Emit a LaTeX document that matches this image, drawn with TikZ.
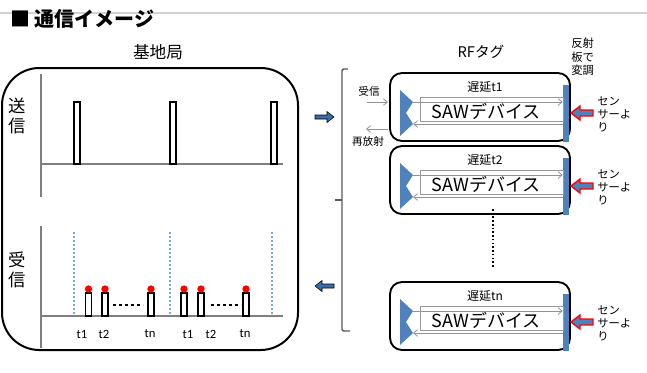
\documentclass[tikz,border=0pt]{standalone}
\usepackage{fontspec}
\usetikzlibrary{arrows.meta}
\setmainfont{Noto Sans CJK JP}
\newfontfamily\lat{Carlito}
\definecolor{sawblue}{HTML}{4F81BD}
\definecolor{arrblue}{HTML}{3D6DA8}
\definecolor{dotblue}{HTML}{7FA7D8}
\definecolor{axisgray}{HTML}{7F7F7F}
\definecolor{brgray}{HTML}{595959}
\newcommand\rftag[3]{%
\begin{scope}[shift={(0,#2)}]
 \node[tagbox] (#1box) at (480,34) {};
 \fill[sawblue] (400,17) -- (413,29) -- (406,40) -- (413,51) -- (400,63) -- cycle;
 \coordinate (#1tipa) at (413,29);
 \coordinate (#1tipb) at (413,51);
 \node[reflbar] (#1bar) at (566,40.5) {};
 \node[sawrect] (#1saw) at (491.5,36) {};
 \node[sawtext] (#1sawt) at (486,38) {SAWデバイス};
 \draw[garrow] (#1tipa) -- (#1tipa -| #1bar.west);
 \draw[garrow] (#1tipb -| #1bar.west) -- (#1tipb);
 \node[dlytext] (#1dly) at (485,14) {遅延{#3}};
 \draw[sensarrow] (593,37) -- (580,37) -- (580,33) -- (571,40) -- (580,47) -- (580,43) -- (593,43) -- cycle;
 \node[senstext] (#1sens) at (597,23) {セン\\サーよ\\り};
\end{scope}}
\begin{document}
\begin{tikzpicture}[x=0.75pt,y=-0.75pt,
  pulse/.style={draw=black,line width=1.1pt,fill=white},
  axis/.style={draw=axisgray,line width=0.8pt},
  tagbox/.style={draw=black,line width=1.4pt,rounded corners=9pt,minimum width=135pt,minimum height=51pt,inner sep=0pt},
  reflbar/.style={fill=sawblue,minimum width=4.5pt,minimum height=42.75pt,inner sep=0pt},
  sawrect/.style={draw=gray!80,line width=0.6pt,minimum width=107.25pt,minimum height=18pt,inner sep=0pt},
  sawtext/.style={font=\fontsize{13.5}{15}\selectfont,inner sep=0pt},
  garrow/.style={draw=gray!85,line width=0.6pt,-{Straight Barb[length=3pt,width=5pt]}},
  dlytext/.style={font=\fontsize{9}{10}\selectfont,inner sep=0pt},
  senstext/.style={font=\fontsize{8.5}{10}\selectfont,align=left,anchor=north west,inner sep=0pt},
  sensarrow/.style={fill=sawblue,draw=red,line width=1pt,line join=miter},
  bigarrow/.style={fill=arrblue},
  tlab/.style={font=\lat\fontsize{9.5}{10}\selectfont,inner sep=0pt},
  rdot/.style={circle,fill=red,minimum size=5.5pt,inner sep=0pt},
  vtext/.style={font=\fontsize{13}{14.5}\selectfont,align=center,inner sep=0pt},
  small/.style={font=\fontsize{8}{9}\selectfont,inner sep=0pt}]
\useasboundingbox (0,0) rectangle (647,372);
% title
\draw[gray!35,line width=0.8pt] (0,13) -- (647,13);
\node[anchor=west,inner sep=0pt,font=\fontsize{15}{16}\selectfont\bfseries] (title) at (10,19) {■ 通信イメージ};
% base station
\node[font=\fontsize{12.5}{13}\selectfont,inner sep=0pt] (bslabel) at (158,52) {基地局};
\draw[line width=1.5pt,rounded corners=28pt] (2,68) rectangle (298,350);
\node[vtext] (txlab) at (17,116) {送\\信};
\node[vtext] (rxlab) at (17,270) {受\\信};
% tx axes
\draw[axis] (41,74) -- (41,197);
\draw[axis] (41,164) -- (283,164);
\foreach \x in {77,173,274}{
  \draw[pulse] (\x-3,102) rectangle (\x+3,164);
}
% rx axes
\draw[axis] (41,226) -- (41,348);
\draw[axis] (41,316) -- (283,316);
\foreach \x in {74,170,272}{
  \draw[dotblue,line width=0.8pt,dash pattern=on 1.2pt off 1.8pt] (\x,232) -- (\x,316);
}
\foreach \x in {88.5,105,151,184,201,246}{
  \draw[pulse] (\x-3,293) rectangle (\x+3,316);
  \node[rdot] at (\x,289) {};
}
\foreach \x in {113,211}{
  \draw[black,line width=2.2pt,dash pattern=on 2.2pt off 2.3pt] (\x,305) -- (\x+30,305);
}
\foreach \x/\t in {82/t1,104/t2,150/tn,188/t1,211/t2,245/tn}{
  \node[tlab] at (\x,334) {\t};
}
% big arrows
\draw[bigarrow] (315,115) -- (327,115) -- (327,111.5) -- (334,117) -- (327,122.5) -- (327,119) -- (315,119) -- cycle;
\draw[bigarrow] (334,284) -- (322,284) -- (322,280.5) -- (315,286) -- (322,291.5) -- (322,288) -- (334,288) -- cycle;
% bracket
\draw[brgray,line width=1.1pt,rounded corners=1.5pt] (348,69) -- (342,69) -- (342,331) -- (350,331);
\draw[brgray,line width=1.1pt] (342,200) -- (335,200);
% RF tag header
\node[font=\fontsize{11}{12}\selectfont,inner sep=0pt] (rflab) at (481,52) {RFタグ};
\node[font=\fontsize{8.5}{10}\selectfont,align=left,anchor=north west,inner sep=0pt] (refl) at (571,38) {反射\\板で\\変調};
% tags
\rftag{A}{73}{t1}
\rftag{B}{146}{t2}
\rftag{N}{282}{tn}
% receive / re-radiate
\node[small] (rxin) at (369,91) {受信};
\coordinate (inS) at (367,102);
\coordinate (inE) at (388,102);
\draw[garrow] (inS) -- (inE);
\node[small] (rerad) at (368,141) {再放射};
\coordinate (outS) at (388,129);
\coordinate (outE) at (366,129);
\draw[garrow] (outS) -- (outE);
% dotted vertical
\coordinate (dtop) at (493,209);
\coordinate (dbot) at (493,268);
\draw[black,line width=1pt,dash pattern=on 1.2pt off 1.6pt] (dtop) -- (dbot);
\end{tikzpicture}
\end{document}
